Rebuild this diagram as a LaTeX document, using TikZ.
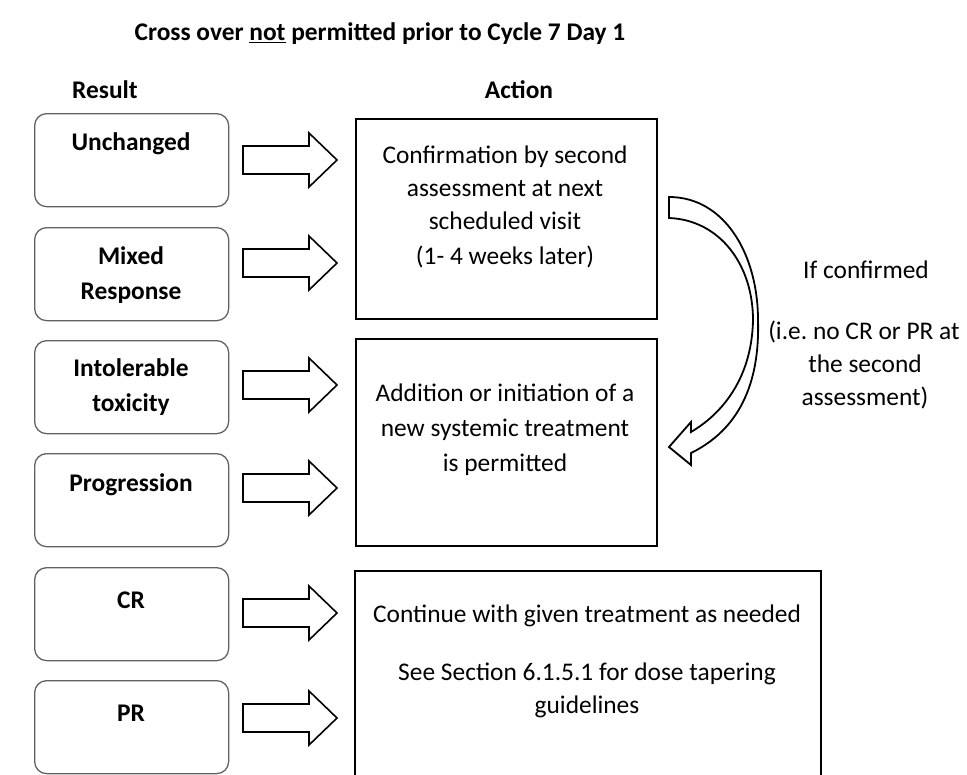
\documentclass[tikz,border=0pt]{standalone}
\usepackage{fontspec}
\setmainfont{Carlito}
\frenchspacing
\begin{document}
\begin{tikzpicture}[x=1bp,y=-1bp,
  lbl/.style={font=\fontsize{25.5}{34}\selectfont\bfseries, anchor=base, inner sep=0},
  txt/.style={font=\fontsize{25.5}{34}\selectfont, anchor=base, inner sep=0},
  resbox/.style={draw=black!62, line width=1.3bp, rounded corners=12bp, minimum width=194bp, minimum height=93bp, anchor=north west, inner sep=0},
  actbox/.style={draw=black, line width=1.8bp, anchor=north west, inner sep=0},
  blk/.style={draw=black, line width=1.6bp, fill=white, line join=miter},
  curv/.style={draw=black, line width=1.8bp, fill=white, line join=miter}]
\useasboundingbox (0,0) rectangle (967,775);
\clip (0,0) rectangle (967,775);
% title and headings
\node[lbl] (title) at (380,41) {Cross over \underline{not} permitted prior to Cycle 7 Day 1};
\node[lbl] (hres) at (105,98) {Result};
\node[lbl] (hact) at (519,98) {Action};
% result boxes
\node[resbox] (r1) at (34,113) {};
\node[resbox] (r2) at (34,227) {};
\node[resbox] (r3) at (34,340) {};
\node[resbox] (r4) at (34,453) {};
\node[resbox] (r5) at (34,567) {};
\node[resbox] (r6) at (34,680) {};
\node[lbl] (t1) at (131,150) {Unchanged};
\node[lbl] (t2a) at (131,264) {Mixed};
\node[lbl] (t2b) at (131,299) {Response};
\node[lbl] (t3a) at (131,376) {Intolerable};
\node[lbl] (t3b) at (131,411) {toxicity};
\node[lbl] (t4) at (131,491) {Progression};
\node[lbl] (t5) at (131,608) {CR};
\node[lbl] (t6) at (131,721) {PR};
% action boxes
\node[actbox, minimum width=301bp, minimum height=200bp] (a1) at (355,118) {};
\node[actbox, minimum width=301bp, minimum height=207bp] (a2) at (355,338) {};
\node[actbox, minimum width=466bp, minimum height=230bp] (a3) at (354,570) {};
\node[txt] (s1a) at (505,163) {Confirmation by second};
\node[txt] (s1b) at (505,196) {assessment at next};
\node[txt] (s1c) at (505,229) {scheduled visit};
\node[txt] (s1d) at (505,264) {(1- 4 weeks later)};
\node[txt] (s2a) at (505,401) {Addition or initiation of a};
\node[txt] (s2b) at (505,436) {new systemic treatment};
\node[txt] (s2c) at (505,471) {is permitted};
\node[txt] (s3a) at (587,622) {Continue with given treatment as needed};
\node[txt] (s3b) at (587,680) {See Section 6.1.5.1 for dose tapering};
\node[txt] (s3c) at (587,713) {guidelines};
% side note
\node[txt] (n1) at (866,278) {If confirmed};
\node[txt] (n2) at (864,339) {(i.e. no CR or PR at};
\node[txt] (n3) at (865,372) {the second};
\node[txt] (n4) at (865,405) {assessment)};
% block arrows
\foreach \y [count=\i] in {160,263,385,488,613,718}{
  \coordinate (b\i) at (243,\y);
  \draw[blk] (b\i) ++(0,-14) -- ++(66,0) -- ++(0,-13) -- ++(28,27) -- ++(-28,27) -- ++(0,-13) -- ++(-66,0) -- cycle;
}
% curved arrow
\coordinate (c0) at (669,197);
\draw[curv] (c0) .. controls (725,197) and (758,255) .. (758,320)
  .. controls (760,385) and (738,430) .. (691,453)
  -- (691,465) -- (669,447) -- (691,422) -- (691,432)
  .. controls (725,412) and (752,375) .. (753,320)
  .. controls (753,265) and (720,220) .. (669,218) -- cycle;
\end{tikzpicture}
\end{document}
